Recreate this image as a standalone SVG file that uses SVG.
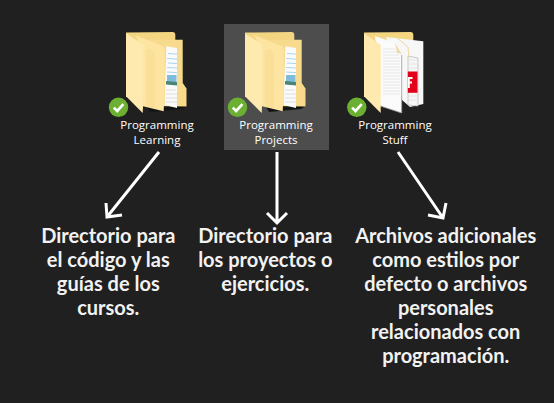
<svg xmlns="http://www.w3.org/2000/svg" width="554" height="403" viewBox="0 0 554 403">
<style>
.lbl{font-family:"Open Sans","Noto Sans",sans-serif;font-size:11.5px;fill:#fff;text-anchor:middle}
.desc{font-family:Lato,"Liberation Sans",sans-serif;font-weight:700;font-size:20px;fill:#f2f2f2;text-anchor:middle}
.arrow{fill:none;stroke:#fff;stroke-width:3}
.line{stroke:#8fcbf0;stroke-width:.8}
.gl{stroke:#d6d6d6;stroke-width:.8}
.gd{stroke:#e2e2e2;stroke-width:.8}
</style>
<defs>
<g id="badge">
<circle cx="118.5" cy="107.3" r="9.7" fill="#6cb033"/>
<path d="M113.8 107.6l3.4 3.4 6.2-6.8" fill="none" stroke="#fff" stroke-width="2.6"/>
</g>
<g id="tab"><path d="M126 32.5L173 32Q175.300 32 175.300 34.500V41H126Z" fill="#f4d582"/></g>
<g id="folderdoc">
<path d="M146 105L187 106 182 109 150 112Z" fill="#141414"/>
<use href="#tab"/>
<path d="M130 39.700H182.700V83L186.500 88.500V106.500L150 106Z" fill="#f7da8c"/>
<path d="M166.300 46.300L177 48V108L164.700 105Z" fill="#fafafa"/>
<g class="line"><path d="M168 53.500l9 .6M167 58.500l10 .6M168 63l9 .5M167 67.500l10 .5M167 72l10 .6"/></g>
<rect x="167" y="75" width="9.500" height="9" fill="#7fbcdc"/>
<path d="M166 81l11 1v3.500l-11-1z" fill="#4b8576"/>
<g class="gl"><path d="M166 90h10M166 94h11M166 98h11M166 102h11"/></g>
<path d="M135.300 35.300L163 46L164.700 48.700V88L163.700 111.300L143 106.300V50Z" fill="#fde4a0"/>
<path d="M146 50L151 49 155 55V108.500L146 106.500Z" fill="#f9df98"/>
<path d="M126 33.500L143.700 44.700V89.700L142.700 113L126 96.300Z" fill="#feeaae"/>
</g>
</defs>
<rect width="554" height="403" fill="#202020"/>
<g id="node-learning">
<use href="#folderdoc"/>
<use href="#badge"/>
<text class="lbl" x="157" y="129">Programming</text>
<text class="lbl" x="157" y="144">Learning</text>
</g>
<g id="node-projects">
<rect x="224" y="24" width="105" height="126" fill="#4d4d4d"/>
<use href="#folderdoc" x="119"/>
<use href="#badge" x="119"/>
<text class="lbl" x="276" y="129">Programming</text>
<text class="lbl" x="276" y="144">Projects</text>
</g>
<g id="node-stuff">
<use href="#tab" x="238"/>
<path d="M386 37L423.300 41.300V104L410 107 402 100Z" fill="#f7f7f7"/>
<path d="M408 56L418 58V106L408 105Z" fill="#f6f6f6" stroke="#b4b4b4" stroke-width=".7"/>
<g class="gd"><path d="M409 60h8M409 64h8M409 68h8M409 96h8M409 100h8"/></g>
<path d="M407.800 71.500H417.500V92.800H407.800Z" fill="#e2001a"/>
<path d="M407.800 77H412.500V79H409.800V81.500H412V83.500H409.800V88H407.800Z" fill="#fff"/>
<path d="M395 36L408 47 409 58" fill="none" stroke="#ecd9a0" stroke-width="1"/>
<path d="M375 36L395 43 401.700 54V113L380 106Z" fill="#fbfbfb"/>
<path d="M380.500 106L401.700 113V55" fill="none" stroke="#9a9a9a" stroke-width=".8"/>
<path d="M395 43L401.700 54 397 53Z" fill="#ebdcae"/>
<g class="gd"><path d="M383 49h12M383 52h14M383 55h16M383 58h17M383 61h17M383 64h17M383 67h17M383 70h17M383 73h17M383 76h17M383 79h17M383 82h17M383 85h17M383 88h17M383 91h17M383 94h17"/></g>
<path d="M364 33.500L380.700 44.700V113L364 96.300Z" fill="#feeaae"/>
<use href="#badge" x="238.300"/>
<text class="lbl" x="395" y="129">Programming</text>
<text class="lbl" x="395" y="144">Stuff</text>
</g>
<g id="connectors">
<path class="arrow" d="M159 152L107 217M106 203L107 217L122 215"/>
<path class="arrow" d="M277 152V223M267 213L277 223L287 213"/>
<path class="arrow" d="M398 152L443 218M446 203L443 218L428 215"/>
</g>
<g id="desc-1">
<text class="desc" x="108.300" y="243">Directorio para</text>
<text class="desc" x="108.300" y="267">el código y las</text>
<text class="desc" x="108.300" y="291">guías de los</text>
<text class="desc" x="108.300" y="315">cursos.</text>
</g>
<g id="desc-2">
<text class="desc" x="265.300" y="243">Directorio para</text>
<text class="desc" x="265.300" y="267">los proyectos o</text>
<text class="desc" x="265.300" y="291">ejercicios.</text>
</g>
<g id="desc-3">
<text class="desc" x="445.700" y="243">Archivos adicionales</text>
<text class="desc" x="445.700" y="267">como estilos por</text>
<text class="desc" x="445.700" y="291">defecto o archivos</text>
<text class="desc" x="445.700" y="315">personales</text>
<text class="desc" x="445.700" y="339">relacionados con</text>
<text class="desc" x="445.700" y="363">programación.</text>
</g>
</svg>
